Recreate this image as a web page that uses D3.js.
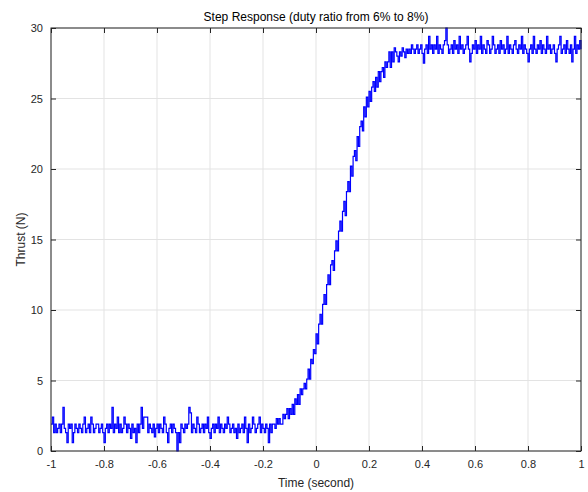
<!DOCTYPE html>
<html><head><meta charset="utf-8">
<script src="https://cdn.jsdelivr.net/npm/d3@7"></script>
<style>html,body{margin:0;padding:0;background:#fff;}svg{display:block;}</style>
</head><body>
<script>
const xTicks = [-1,-0.8,-0.6,-0.4,-0.2,0,0.2,0.4,0.6,0.8,1];
const yTicks = [0,5,10,15,20,25,30];
const titleText = "Step Response (duty ratio from 6% to 8%)";
const xLabel = "Time (second)";
const yLabel = "Thrust (N)";

// baseline (t = -1 .. -0.165)
const thrustBaseline = [
1.9,2.4,1.3,1.9,1.3,1.6,1.9,1.3,1.9,3.1,1.6,1.3,0.6,1.9,1.6,1.9,0.6,1.3,1.9,1.6,
1.3,1.9,1.6,1.3,1.9,2.4,1.3,1.6,1.9,1.3,2.4,1.9,1.3,1.6,1.9,1.9,1.3,1.6,1.9,1.3,
0.6,1.6,1.9,1.3,1.9,1.6,3.1,1.3,1.9,1.6,2.4,1.3,1.9,1.3,1.6,2.4,1.9,1.3,1.9,1.6,
0.9,1.9,1.3,1.6,0.6,1.9,1.3,1.9,3.1,1.6,2.4,2.4,2.4,1.3,1.9,1.6,1.3,1.9,1.0,1.6,
1.9,1.3,1.9,1.6,1.3,2.4,1.9,1.3,0.6,1.6,1.9,1.3,1.9,1.6,1.3,0,1.3,0.6,1.9,1.6,
1.3,1.9,1.6,1.9,3.1,2.7,1.3,1.9,1.6,1.3,2.4,1.9,1.3,1.6,1.9,1.3,1.9,1.6,2.4,1.3,
0.9,1.6,1.9,1.3,1.9,1.6,2.4,1.3,1.9,1.6,1.3,1.9,1.6,2.4,1.9,1.3,1.6,1.9,1.3,1.6,
0.9,1.9,1.3,1.6,1.9,1.3,2.4,1.6,0.6,1.9,1.3,1.6,2.4,1.9,1.3,1.6,1.9,2.4,1.3,1.9,
1.6,1.3,1.9,1.6,0.6,1.9,1.3,1.9
];
// rise (t = -0.16 .. 0.30)
const thrustRise = [
1.9,1.6,2.3,1.9,2.3,1.9,1.9,2.6,2.3,2.6,
3.0,2.3,3.0,2.6,3.3,2.6,3.7,3.3,4.0,3.3,
4.4,4.0,4.4,4.8,4.4,5.1,5.8,5.1,6.5,6.2,
7.2,6.9,8.3,7.6,9.0,9.7,9.0,10.4,11.1,10.4,
11.8,12.5,11.8,13.2,13.5,12.8,14.2,14.9,14.2,15.6,
16.3,15.6,17.0,17.7,16.7,18.4,19.1,18.4,20.2,19.5,
20.9,21.3,20.6,22.3,21.6,23.0,23.4,22.7,24.4,23.7,
25.1,24.4,25.5,24.8,25.8,26.2,25.5,26.5,25.8,26.9,
26.2,26.9,27.2,26.5,27.6,27.2,27.6,28.3,27.2,28.3,
27.6,28.6,28.3
];
// plateau (t = 0.305 .. 1)
const thrustPlateau = [
28.0,27.6,28.3,28.0,28.6,28.3,27.9,28.5,28.2,28.5,28.2,28.8,28.5,28.2,28.5,28.8,28.2,28.5,28.8,28.2,
27.5,28.5,28.8,28.2,29.4,28.5,28.8,28.2,28.8,28.5,29.4,28.2,28.8,28.5,28.2,28.8,29.1,30.0,28.8,28.2,
28.5,28.8,28.2,29.1,28.5,28.8,28.2,29.4,28.5,28.8,28.2,28.5,28.8,29.4,28.5,27.6,28.2,28.8,28.5,29.1,
28.2,28.8,28.5,29.4,28.2,28.8,28.5,28.2,29.1,28.8,28.2,28.5,29.4,28.8,28.2,28.5,28.8,28.2,29.1,28.5,
28.8,28.2,28.5,29.4,28.2,28.8,28.5,28.2,28.8,29.1,28.5,28.2,28.8,28.5,29.4,28.2,28.8,28.5,28.2,27.6,
28.5,28.8,28.2,29.4,28.5,28.2,28.8,28.5,29.1,28.2,28.8,28.5,28.2,29.4,28.5,28.8,28.2,28.5,28.8,28.2,
27.6,28.5,28.8,29.4,28.2,28.5,28.8,28.2,29.1,28.5,28.2,28.8,27.6,28.5,29.4,28.2,28.8,28.5,29.1,28.5
];
const tStart = -1, tEnd = 1;

const thrust = thrustBaseline.concat(thrustRise, thrustPlateau);
const n = thrust.length;
const data = thrust.map((v,i)=>({t: tStart + (tEnd - tStart)*i/(n-1), v}));

const W = 588, H = 492;
const m = {l:51, r:7, t:28, b:41};
const svg = d3.select("body").append("svg").attr("width",W).attr("height",H);
const x = d3.scaleLinear().domain([-1,1]).range([m.l, W-m.r]);
const y = d3.scaleLinear().domain([0,30]).range([H-m.b, m.t]);
const font = "'Liberation Sans', Arial, sans-serif";
const axisCol = "#262626";

// grid
const g = svg.append("g");
g.selectAll(".gx").data(xTicks).join("line")
  .attr("x1",d=>x(d)).attr("x2",d=>x(d)).attr("y1",m.t).attr("y2",H-m.b)
  .attr("stroke","#e3e3e3").attr("stroke-width",1);
g.selectAll(".gy").data(yTicks).join("line")
  .attr("y1",d=>y(d)).attr("y2",d=>y(d)).attr("x1",m.l).attr("x2",W-m.r)
  .attr("stroke","#e3e3e3").attr("stroke-width",1);

// line (sample-and-hold look)
svg.append("path").datum(data)
  .attr("fill","none").attr("stroke","#0000ff").attr("stroke-width",1.2)
  .attr("d", d3.line().curve(d3.curveStepAfter).x(d=>x(d.t)).y(d=>y(d.v)));

function styleAxis(sel, showLabels){
  sel.select(".domain").remove();
  sel.selectAll(".tick line").attr("stroke",axisCol);
  sel.selectAll(".tick text").attr("fill",axisCol).style("font-family",font).style("font-size","11px");
  if(!showLabels) sel.selectAll(".tick text").remove();
}
const fmt = d => d3.format("")(d).replace("−","-");
svg.append("g").attr("transform",`translate(0,${H-m.b})`)
  .call(d3.axisBottom(x).tickValues(xTicks).tickSize(-5).tickPadding(9).tickFormat(fmt))
  .call(s=>styleAxis(s,true));
svg.append("g").attr("transform",`translate(0,${m.t})`)
  .call(d3.axisTop(x).tickValues(xTicks).tickSize(-5).tickFormat(""))
  .call(s=>styleAxis(s,false));
svg.append("g").attr("transform",`translate(${m.l},0)`)
  .call(d3.axisLeft(y).tickValues(yTicks).tickSize(-5).tickPadding(8).tickFormat(fmt))
  .call(s=>styleAxis(s,true));
svg.append("g").attr("transform",`translate(${W-m.r},0)`)
  .call(d3.axisRight(y).tickValues(yTicks).tickSize(-5).tickFormat(""))
  .call(s=>styleAxis(s,false));

// box
svg.append("rect").attr("x",m.l).attr("y",m.t).attr("width",W-m.r-m.l).attr("height",H-m.b-m.t)
  .attr("fill","none").attr("stroke",axisCol).attr("stroke-width",1);

svg.append("text").attr("x",(m.l+W-m.r)/2).attr("y",21).attr("text-anchor","middle")
  .style("font-family",font).style("font-size","12px").attr("fill","#000").text(titleText);
svg.append("text").attr("x",(m.l+W-m.r)/2).attr("y",487).attr("text-anchor","middle")
  .style("font-family",font).style("font-size","12px").attr("fill",axisCol).text(xLabel);
svg.append("text").attr("transform",`translate(25,${(m.t+H-m.b)/2}) rotate(-90)`).attr("text-anchor","middle")
  .style("font-family",font).style("font-size","12px").attr("fill",axisCol).text(yLabel);
</script>
</body></html>
